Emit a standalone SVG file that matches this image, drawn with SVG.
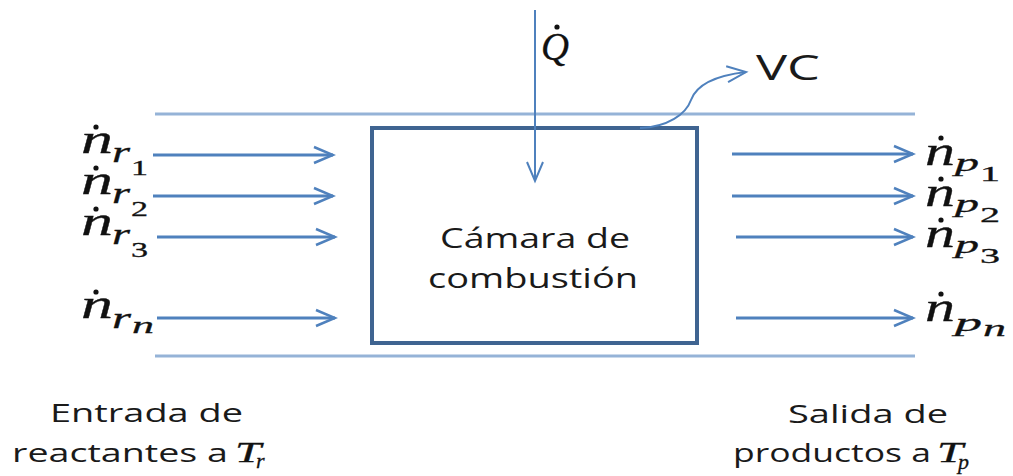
<svg xmlns="http://www.w3.org/2000/svg" width="1013" height="476" viewBox="0 0 1013 476">
<defs>
<marker id="ah" markerUnits="userSpaceOnUse" markerWidth="24" markerHeight="20" viewBox="0 0 24 20" refX="21" refY="10" orient="auto">
<path d="M2,2 L21,10 L2,18" fill="none" stroke="#4F81BD" stroke-width="2.5"/>
</marker>
<marker id="ahs" markerUnits="userSpaceOnUse" markerWidth="24" markerHeight="20" viewBox="0 0 24 20" refX="21" refY="10" orient="auto">
<path d="M2,2 L21,10 L2,18" fill="none" stroke="#4F81BD" stroke-width="2"/>
</marker>
</defs>
<style>
.bound{stroke:#95B3D7;stroke-width:3;fill:none}
.flow{stroke:#4F81BD;stroke-width:3;fill:none;marker-end:url(#ah)}
.thin{stroke:#4F81BD;stroke-width:2;fill:none;marker-end:url(#ahs)}
.box{fill:#fff;stroke:#3F6491;stroke-width:4}
.sans{font-family:"Open Sans","Liberation Sans",sans-serif;fill:#1a1a1a}
.m{font-family:"Liberation Serif","DejaVu Serif",serif;font-style:italic;fill:#111;stroke:#111;stroke-width:0.3}
.d{font-family:"Liberation Serif","DejaVu Serif",serif;fill:#111;stroke:#111;stroke-width:0.3}
.dot{fill:#111}
</style>
<rect width="1013" height="476" fill="#fff"/>
<g id="boundaries">
<line class="bound" x1="155" y1="114" x2="915" y2="114"/>
<line class="bound" x1="155" y1="356" x2="915" y2="356"/>
</g>
<g id="camara">
<rect class="box" x="372" y="128" width="325" height="215"/>
<text class="sans" x="535" y="248" font-size="27" text-anchor="middle" textLength="190" lengthAdjust="spacingAndGlyphs">Cámara de</text>
<text class="sans" x="533" y="288" font-size="27" text-anchor="middle" textLength="210" lengthAdjust="spacingAndGlyphs">combustión</text>
</g>
<g id="connectors">
<line class="thin" x1="535" y1="10" x2="535" y2="181"/>
<path class="thin" d="M640,128 C668,127 686,114 691,100 C696,86 712,76 746,72"/>
<line class="flow" x1="153" y1="155" x2="333" y2="155"/>
<line class="flow" x1="153" y1="196" x2="333" y2="196"/>
<line class="flow" x1="157" y1="237" x2="335" y2="237"/>
<line class="flow" x1="157" y1="318" x2="335" y2="318"/>
<line class="flow" x1="732" y1="154" x2="913" y2="154"/>
<line class="flow" x1="732" y1="196" x2="913" y2="196"/>
<line class="flow" x1="736" y1="237" x2="913" y2="237"/>
<line class="flow" x1="736" y1="318" x2="913" y2="318"/>
</g>
<g id="q-label">
<text class="m" x="541" y="60" font-size="41" textLength="28" lengthAdjust="spacingAndGlyphs">Q</text>
<circle class="dot" cx="557" cy="27" r="2.6"/>
</g>
<g id="vc-label">
<text class="sans" x="756" y="80" font-size="34" textLength="64" lengthAdjust="spacingAndGlyphs">VC</text>
</g>
<g id="in-labels">
<text class="m" x="81" y="153" font-size="40" textLength="32" lengthAdjust="spacingAndGlyphs">n</text>
<circle class="dot" cx="96" cy="127" r="2.6"/>
<text class="m" x="112" y="162" font-size="29" textLength="18" lengthAdjust="spacingAndGlyphs">r</text>
<text class="d" x="131" y="175" font-size="21" textLength="17" lengthAdjust="spacingAndGlyphs">1</text>
<text class="m" x="81" y="194" font-size="40" textLength="32" lengthAdjust="spacingAndGlyphs">n</text>
<circle class="dot" cx="96" cy="168" r="2.6"/>
<text class="m" x="112" y="203" font-size="29" textLength="18" lengthAdjust="spacingAndGlyphs">r</text>
<text class="d" x="131" y="216" font-size="21" textLength="17" lengthAdjust="spacingAndGlyphs">2</text>
<text class="m" x="81" y="235" font-size="40" textLength="32" lengthAdjust="spacingAndGlyphs">n</text>
<circle class="dot" cx="96" cy="209" r="2.6"/>
<text class="m" x="112" y="244" font-size="29" textLength="18" lengthAdjust="spacingAndGlyphs">r</text>
<text class="d" x="131" y="257" font-size="21" textLength="17" lengthAdjust="spacingAndGlyphs">3</text>
<text class="m" x="81" y="318" font-size="40" textLength="32" lengthAdjust="spacingAndGlyphs">n</text>
<circle class="dot" cx="96" cy="292" r="2.6"/>
<text class="m" x="112" y="328" font-size="29" textLength="19" lengthAdjust="spacingAndGlyphs">r</text>
<text class="m" x="132" y="333" font-size="24" textLength="22" lengthAdjust="spacingAndGlyphs">n</text>
</g>
<g id="out-labels">
<text class="m" x="925" y="165" font-size="40" textLength="30" lengthAdjust="spacingAndGlyphs">n</text>
<circle class="dot" cx="941" cy="138" r="2.6"/>
<text class="m" x="955" y="171" font-size="26" textLength="24" lengthAdjust="spacingAndGlyphs">p</text>
<text class="d" x="980" y="181" font-size="21" textLength="20" lengthAdjust="spacingAndGlyphs">1</text>
<text class="m" x="925" y="206" font-size="40" textLength="30" lengthAdjust="spacingAndGlyphs">n</text>
<circle class="dot" cx="941" cy="179" r="2.6"/>
<text class="m" x="955" y="212" font-size="26" textLength="24" lengthAdjust="spacingAndGlyphs">p</text>
<text class="d" x="980" y="222" font-size="21" textLength="20" lengthAdjust="spacingAndGlyphs">2</text>
<text class="m" x="925" y="247" font-size="40" textLength="30" lengthAdjust="spacingAndGlyphs">n</text>
<circle class="dot" cx="941" cy="220" r="2.6"/>
<text class="m" x="955" y="253" font-size="26" textLength="24" lengthAdjust="spacingAndGlyphs">p</text>
<text class="d" x="980" y="263" font-size="21" textLength="20" lengthAdjust="spacingAndGlyphs">3</text>
<text class="m" x="925" y="321" font-size="40" textLength="30" lengthAdjust="spacingAndGlyphs">n</text>
<circle class="dot" cx="941" cy="294" r="2.6"/>
<text class="m" x="955" y="331" font-size="26" textLength="27" lengthAdjust="spacingAndGlyphs">p</text>
<text class="m" x="983" y="336" font-size="24" textLength="23" lengthAdjust="spacingAndGlyphs">n</text>
</g>
<g id="entrada">
<text class="sans" x="50" y="422" font-size="25" textLength="193" lengthAdjust="spacingAndGlyphs">Entrada de</text>
<text class="sans" x="12" y="462" font-size="25" textLength="216" lengthAdjust="spacingAndGlyphs">reactantes a</text>
<text class="m" x="235" y="462" font-size="29" textLength="26" lengthAdjust="spacingAndGlyphs">T</text>
<text class="m" x="256" y="468" font-size="22">r</text>
</g>
<g id="salida">
<text class="sans" x="788" y="423" font-size="25" textLength="160" lengthAdjust="spacingAndGlyphs">Salida de</text>
<text class="sans" x="733" y="462" font-size="25" textLength="198" lengthAdjust="spacingAndGlyphs">productos a</text>
<text class="m" x="937" y="462" font-size="29" textLength="26" lengthAdjust="spacingAndGlyphs">T</text>
<text class="m" x="958" y="469" font-size="22">p</text>
</g>
</svg>
